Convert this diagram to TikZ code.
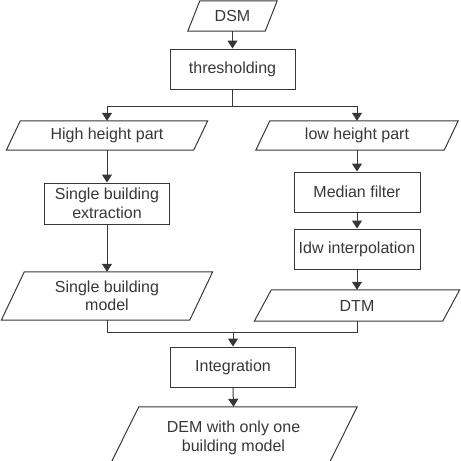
\documentclass[tikz,border=0pt]{standalone}
\usepackage{fontspec}
\setmainfont{Liberation Sans}
\usetikzlibrary{arrows.meta}
\definecolor{ink}{RGB}{55,55,55}
\newcommand{\paradraw}[2]{%
  \draw[line] ([xshift=#2]#1.north west) -- ([xshift=#2]#1.north east)
    -- ([xshift=-#2]#1.south east) -- ([xshift=-#2]#1.south west) -- cycle;}
\tikzset{
  line/.style={draw=ink, line width=1pt},
  arr/.style={line, -{Triangle[length=8pt,width=10pt]}},
  txt/.style={font=\fontsize{16pt}{18.5pt}\selectfont, text=ink, align=center, inner sep=0pt},
  procbox/.style={txt, rectangle, line, minimum width=#1},
  iobox/.style={txt, rectangle, minimum width=#1},
}
\begin{document}
\begin{tikzpicture}[x=1pt,y=-1pt]
\useasboundingbox (0,0) rectangle (461,461);
\clip (0,0) rectangle (461,461);
% nodes
\node[iobox=77, minimum height=30] (dsm) at (232.5,16) {DSM};
\node[procbox=125, minimum height=40] (thr) at (232.5,69) {thresholding};
\node[iobox=187, minimum height=29] (high) at (107,135.5) {High height part};
\node[iobox=188, minimum height=29] (low) at (357,135.5) {low height part};
\node[procbox=125, minimum height=41] (sbe) at (107,203.5) {Single building\\extraction};
\node[iobox=188, minimum height=48] (sbm) at (107,296) {Single building\\model};
\node[procbox=126, minimum height=40] (med) at (357,192) {Median filter};
\node[procbox=126, minimum height=40] (idw) at (357,249) {Idw interpolation};
\node[iobox=188, minimum height=31] (dtm) at (357,305.5) {DTM};
\node[procbox=125, minimum height=40] (int) at (233,367) {Integration};
\node[iobox=218, minimum height=58, text depth=0pt] (dem) at (233.5,436) {DEM with only one\\building model};
% parallelograms
\paradraw{dsm}{6pt}
\paradraw{high}{7pt}
\paradraw{low}{7pt}
\paradraw{sbm}{11.5pt}
\paradraw{dtm}{8.5pt}
\paradraw{dem}{14.5pt}
% connectors
\coordinate (split) at (232.5,106);
\coordinate (merge) at (233,332);
\draw[arr] (dsm.south) -- (thr.north);
\draw[line] (thr.south) -- (split);
\draw[arr] (split) -| (high.north);
\draw[arr] (split) -| (low.north);
\draw[arr] (high.south) -- (sbe.north);
\draw[arr] (sbe.south) -- (sbm.north);
\draw[arr] (low.south) -- (med.north);
\draw[arr] (med.south) -- (idw.north);
\draw[arr] (idw.south) -- (dtm.north);
\draw[line] (sbm.south) |- (merge);
\draw[line] (dtm.south) |- (merge);
\draw[arr] (merge) -- (int.north);
\draw[arr] (int.south) -- (dem.north);
\end{tikzpicture}
\end{document}
